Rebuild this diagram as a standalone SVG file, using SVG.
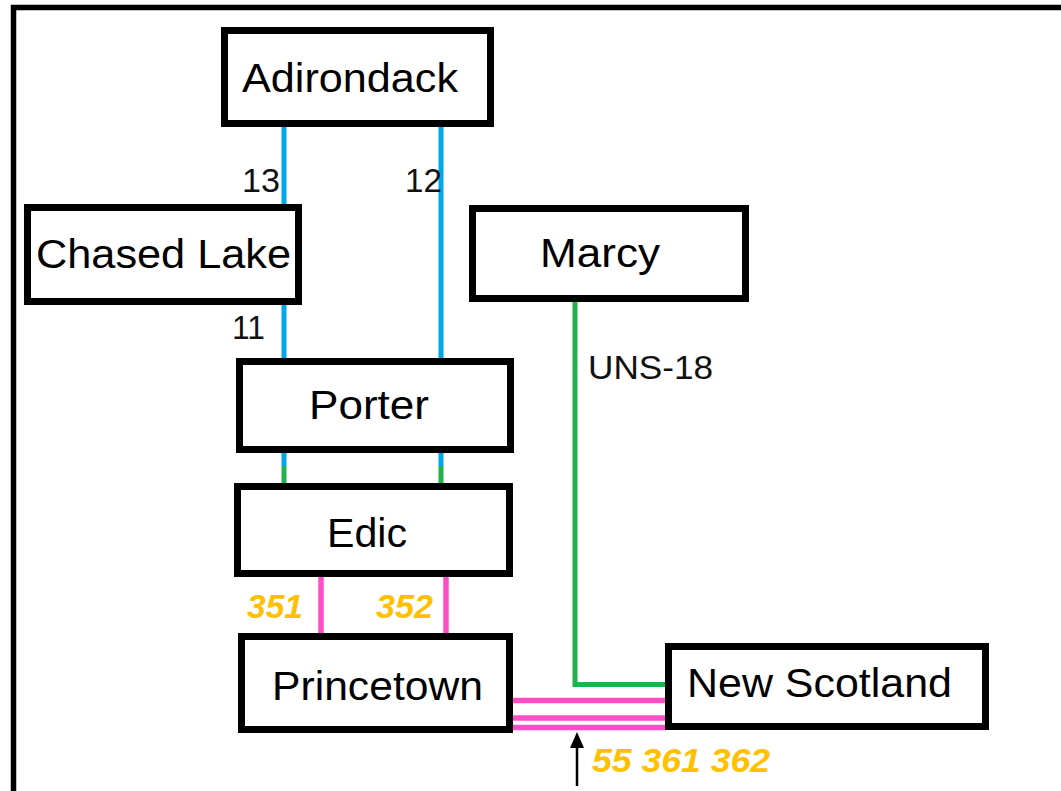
<svg xmlns="http://www.w3.org/2000/svg" width="1061" height="791" viewBox="0 0 1061 791">
<style>
.box{fill:#fff;stroke:#000;stroke-width:7}
.lbl{font-family:"Liberation Sans",Arial,sans-serif;font-size:41px;fill:#000}
.elbl{font-family:"Liberation Sans",Arial,sans-serif;font-size:33px;fill:#111}
.ylbl{font-family:"Liberation Sans",Arial,sans-serif;font-size:33px;font-weight:bold;font-style:italic;fill:#FFC000}
.blue{stroke:#00A8E8;stroke-width:5;fill:none}
.green{stroke:#22B14C;stroke-width:5;fill:none}
.pink{stroke:#FF4DC8;stroke-width:5.5;fill:none}
</style>
<rect x="0" y="0" width="1061" height="791" fill="#fff"/>
<rect x="13.5" y="7.5" width="1100" height="1000" fill="none" stroke="#000" stroke-width="5.5"/>
<g id="connectors">
<line class="blue" x1="284" y1="127" x2="284" y2="205"/>
<line class="blue" x1="284" y1="304" x2="284" y2="359"/>
<line class="blue" x1="441" y1="127" x2="441" y2="359"/>
<line class="blue" x1="284" y1="452" x2="284" y2="466"/>
<line class="green" x1="284" y1="466" x2="284" y2="484"/>
<line class="blue" x1="441" y1="452" x2="441" y2="466"/>
<line class="green" x1="441" y1="466" x2="441" y2="484"/>
<polyline class="green" points="575,301 575,684.5 666,684.5"/>
<line class="pink" x1="321" y1="576" x2="321" y2="634"/>
<line class="pink" x1="446" y1="576" x2="446" y2="634"/>
<line class="pink" x1="512" y1="700.5" x2="666" y2="700.5"/>
<line class="pink" x1="512" y1="718" x2="666" y2="718"/>
<line class="pink" x1="512" y1="727.5" x2="666" y2="727.5"/>
<line x1="577" y1="745" x2="577" y2="786" stroke="#000" stroke-width="2.5"/>
<polygon points="570,748 584,748 577,732" fill="#000"/>
<text class="elbl" x="242" y="192" textLength="38" lengthAdjust="spacingAndGlyphs">13</text>
<text class="elbl" x="405" y="192" textLength="37" lengthAdjust="spacingAndGlyphs">12</text>
<text class="elbl" x="232" y="339" textLength="33" lengthAdjust="spacingAndGlyphs">11</text>
<text class="elbl" x="588" y="379" textLength="125" lengthAdjust="spacingAndGlyphs">UNS-18</text>
<text class="ylbl" x="247" y="618" textLength="56" lengthAdjust="spacingAndGlyphs">351</text>
<text class="ylbl" x="376" y="618" textLength="57" lengthAdjust="spacingAndGlyphs">352</text>
<text class="ylbl" x="592" y="772" textLength="178" lengthAdjust="spacingAndGlyphs">55 361 362</text>
</g>
<g id="adirondack">
<rect class="box" x="224.5" y="30.5" width="266" height="93"/>
<text class="lbl" x="242" y="92" textLength="216" lengthAdjust="spacingAndGlyphs">Adirondack</text>
</g>
<g id="chased-lake">
<rect class="box" x="27.5" y="207.5" width="271" height="94"/>
<text class="lbl" x="36" y="268" textLength="255" lengthAdjust="spacingAndGlyphs">Chased Lake</text>
</g>
<g id="marcy">
<rect class="box" x="472.5" y="208.5" width="273" height="90"/>
<text class="lbl" x="540" y="267" textLength="120" lengthAdjust="spacingAndGlyphs">Marcy</text>
</g>
<g id="porter">
<rect class="box" x="239.5" y="361.5" width="271" height="88"/>
<text class="lbl" x="309" y="419" textLength="120" lengthAdjust="spacingAndGlyphs">Porter</text>
</g>
<g id="edic">
<rect class="box" x="237.5" y="486.5" width="272" height="87"/>
<text class="lbl" x="327" y="547" textLength="80" lengthAdjust="spacingAndGlyphs">Edic</text>
</g>
<g id="princetown">
<rect class="box" x="241.5" y="636.5" width="268" height="93"/>
<text class="lbl" x="272" y="700" textLength="211" lengthAdjust="spacingAndGlyphs">Princetown</text>
</g>
<g id="new-scotland">
<rect class="box" x="668.5" y="646.5" width="317" height="80"/>
<text class="lbl" x="687" y="697" textLength="265" lengthAdjust="spacingAndGlyphs">New Scotland</text>
</g>
</svg>
